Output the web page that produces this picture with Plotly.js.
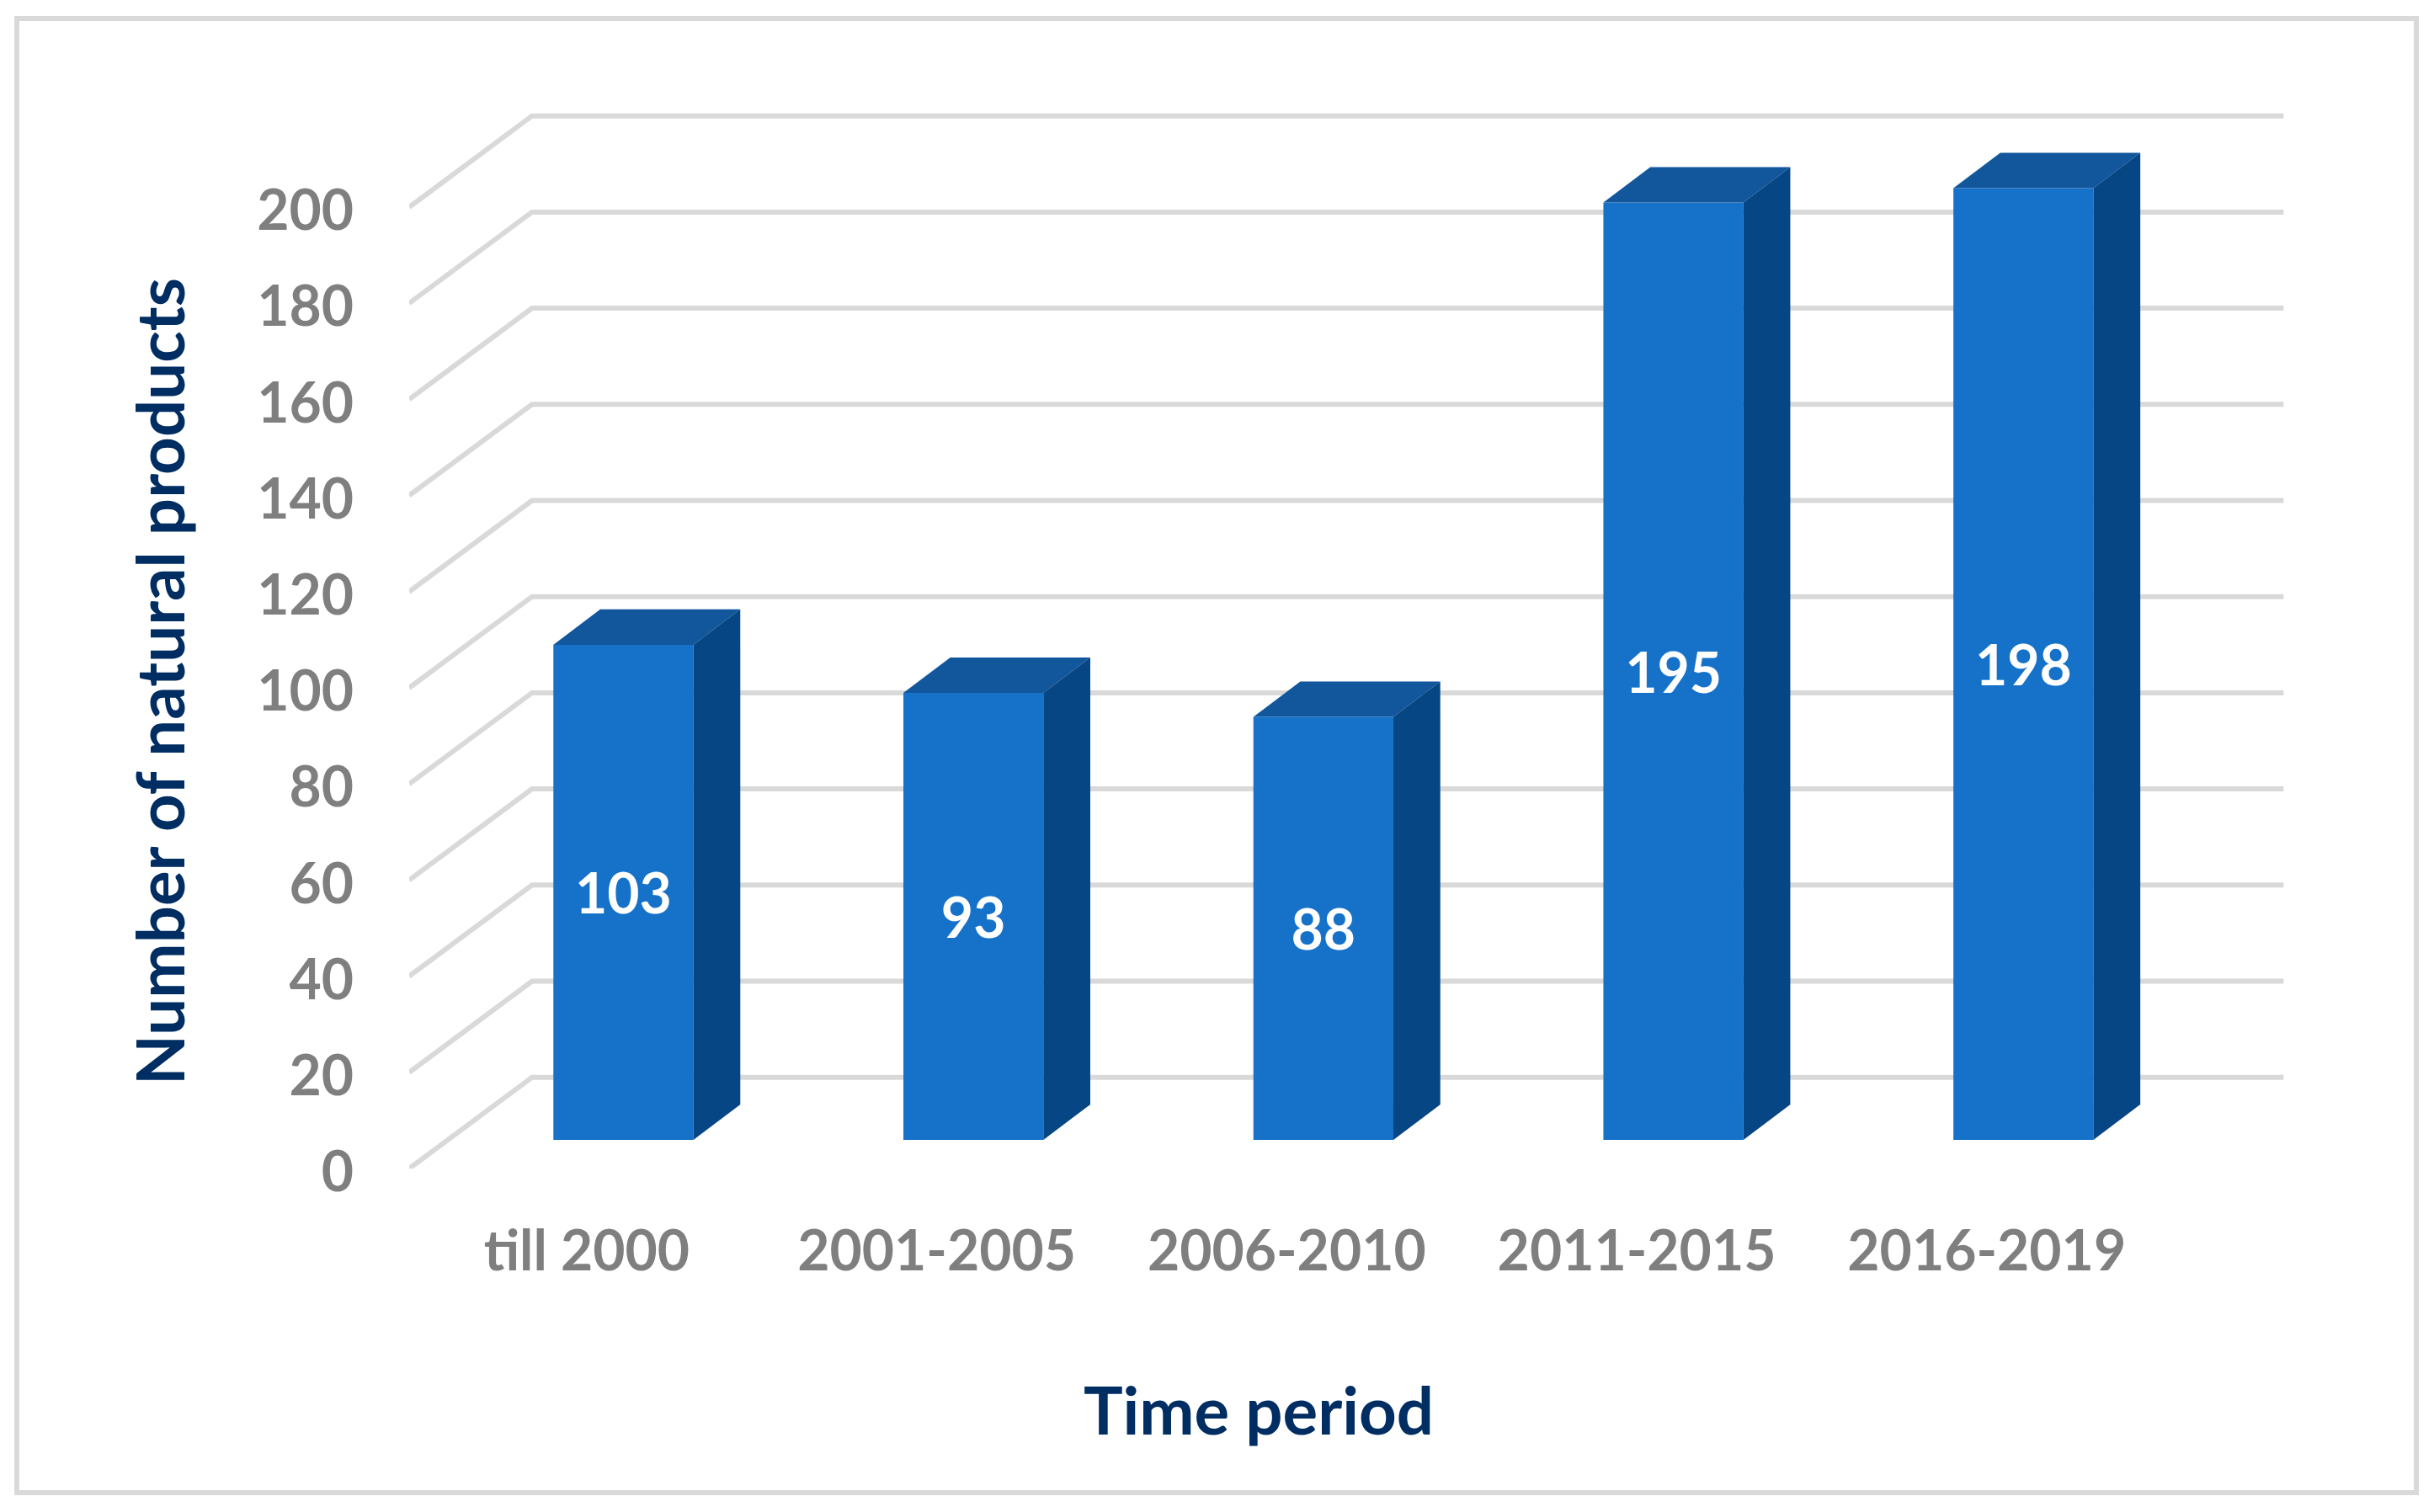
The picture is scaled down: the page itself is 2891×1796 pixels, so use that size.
<!DOCTYPE html>
<html>
<head>
<meta charset="utf-8">
<script src="https://cdn.plot.ly/plotly-3.0.1.min.js"></script>
<style>html,body{margin:0;padding:0;background:#fff}#chart{width:2891px;height:1796px}</style>
</head>
<body>
<div id="chart"></div>
<script>
var categories = ['till 2000', '2001-2005', '2006-2010', '2011-2015', '2016-2019'];
var values = [103, 93, 88, 195, 198];
var gridValues = [0, 20, 40, 60, 80, 100, 120, 140, 160, 180, 200];
var xTitle = 'Time period';
var yTitle = 'Number of natural products';

var W = 2891, H = 1796;
var positions = categories.map(function (c, i) { return i; });
var barOffset = 0.112, barWidth = 0.4, barBase = 5.95;
var barDepthX = 0.134, barDepthY = 7.36;
var wallDepthX = 0.351, wallDepthY = 18.97;
var xMin = -0.5, xMax = 4.856;

var frontColor = '#1672C9', topColor = '#12569C', sideColor = '#064684';
var gridColor = '#D9D9D9', tickColor = '#7F7F7F', titleColor = '#002D62';
var fontFamily = 'Lato, "Open Sans", sans-serif';

var gridShapes = gridValues.map(function (v) {
  var bx = xMin + wallDepthX, by = v + wallDepthY;
  return {
    type: 'path', xref: 'x', yref: 'y', layer: 'below',
    path: 'M ' + xMin + ' ' + v + ' L ' + bx + ' ' + by + ' L ' + xMax + ' ' + by,
    line: { color: gridColor, width: 6 }
  };
});

var frame = {
  type: 'rect', xref: 'paper', yref: 'paper', layer: 'below',
  x0: 20 / W, x1: 2870 / W, y0: 1 - 1773 / H, y1: 1 - 22 / H,
  line: { color: '#D9D9D9', width: 6 }, fillcolor: 'rgba(0,0,0,0)'
};

var traces = [{
  type: 'bar',
  x: positions.map(function (p) { return p + barOffset; }),
  y: values,
  base: values.map(function () { return barBase; }),
  width: barWidth,
  marker: { color: frontColor, line: { width: 0 } },
  text: values.map(String),
  textposition: 'inside',
  insidetextanchor: 'middle',
  textangle: 0,
  constraintext: 'none',
  textfont: { family: fontFamily, size: 66, color: '#FFFFFF', weight: 700 },
  hoverinfo: 'x+y',
  showlegend: false
}];

values.forEach(function (v, i) {
  var x0 = positions[i] + barOffset - barWidth / 2;
  var x1 = x0 + barWidth;
  var yB = barBase, yT = barBase + v;
  traces.push({
    type: 'scatter', mode: 'lines', fill: 'toself', fillcolor: topColor,
    x: [x0, x1, x1 + barDepthX, x0 + barDepthX, x0],
    y: [yT, yT, yT + barDepthY, yT + barDepthY, yT],
    line: { width: 0, color: topColor }, hoverinfo: 'skip', showlegend: false
  });
  traces.push({
    type: 'scatter', mode: 'lines', fill: 'toself', fillcolor: sideColor,
    x: [x1, x1 + barDepthX, x1 + barDepthX, x1, x1],
    y: [yB, yB + barDepthY, yT + barDepthY, yT, yB],
    line: { width: 0, color: sideColor }, hoverinfo: 'skip', showlegend: false
  });
});

var layout = {
  width: W, height: H,
  margin: { l: 0, r: 0, t: 0, b: 0, pad: 0 },
  paper_bgcolor: '#FFFFFF', plot_bgcolor: 'rgba(0,0,0,0)',
  showlegend: false,
  xaxis: {
    domain: [486 / W, 2712.6 / W],
    range: [xMin, xMax],
    tickmode: 'array', tickvals: positions, ticktext: categories,
    ticks: '', ticklabelstandoff: 54, ticklabelshift: 3,
    showgrid: false, zeroline: false, showline: false, automargin: false,
    tickfont: { family: fontFamily, size: 66, color: tickColor, weight: 700 }
  },
  yaxis: {
    domain: [1 - 1388 / H, 1 - (1388 - 220 * 5.71) / H],
    range: [0, 220],
    tickmode: 'array', tickvals: gridValues, ticktext: gridValues.map(String),
    ticks: '', ticklabelstandoff: 65, ticklabelshift: 4,
    showgrid: false, zeroline: false, showline: false, automargin: false,
    tickfont: { family: fontFamily, size: 66, color: tickColor, weight: 700 }
  },
  shapes: [frame].concat(gridShapes),
  annotations: [{
    xref: 'paper', yref: 'paper', x: 1495 / W, y: 1 - 1674 / H,
    text: xTitle, showarrow: false, xanchor: 'center', yanchor: 'middle',
    font: { family: fontFamily, size: 78, color: titleColor, weight: 700 }
  }, {
    xref: 'paper', yref: 'paper', x: 189 / W, y: 1 - 810 / H,
    text: yTitle, textangle: -90, showarrow: false, xanchor: 'center', yanchor: 'middle',
    font: { family: fontFamily, size: 78, color: titleColor, weight: 700 }
  }]
};

Plotly.newPlot('chart', traces, layout, { displayModeBar: false, responsive: false });
</script>
</body>
</html>
